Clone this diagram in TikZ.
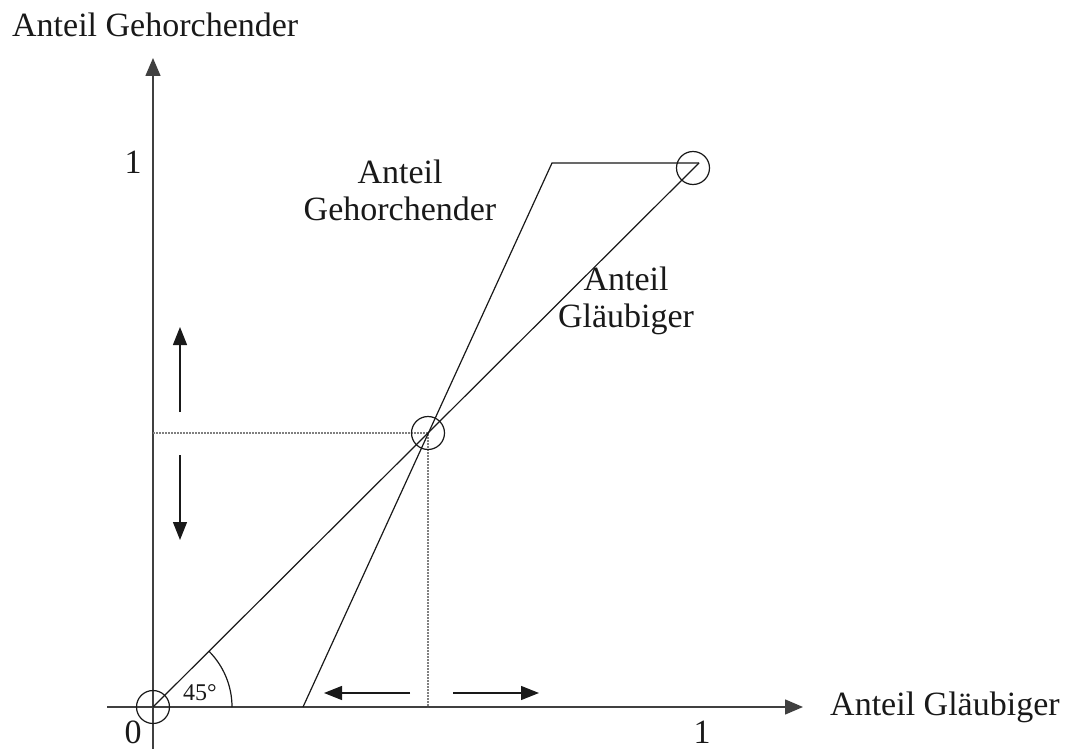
\documentclass[tikz,border=0pt]{standalone}
\usepackage{fontspec}
\setmainfont{Liberation Serif}
\usetikzlibrary{arrows.meta}
\begin{document}
\begin{tikzpicture}[x=1pt,y=-1pt,
  axis/.style={draw=black!75,line width=1.4pt,-{Triangle[length=18pt,width=15pt]}},
  curve/.style={draw=black!90,line width=1.2pt},
  helper/.style={draw=black!50,line width=1.3pt,dash pattern=on 2pt off 1pt},
  move/.style={draw=black!90,line width=1.3pt,-{Triangle[length=18pt,width=14pt]}},
  ring/.style={circle,draw=black!90,line width=1.2pt,minimum size=33pt,inner sep=0pt},
  lab/.style={font=\fontsize{34}{37}\selectfont,inner sep=0pt,text=black!90},
  small/.style={font=\fontsize{24}{26}\selectfont,inner sep=0pt,text=black!90}]
\useasboundingbox (0,0) rectangle (1073,749);
% coordinates
\coordinate (O) at (153,707);
\coordinate (P) at (428,433);
\coordinate (Q) at (699,163);
\coordinate (S) at (303,707);
\coordinate (T) at (552,163);
\coordinate (xs) at (107,707);
\coordinate (xe) at (803,707);
\coordinate (ys) at (153,749);
\coordinate (ye) at (153,58);
\coordinate (yP) at (153,433);
\coordinate (xP) at (428,707);
\coordinate (u1) at (180,412); \coordinate (u2) at (180,327);
\coordinate (d1) at (180,455); \coordinate (d2) at (180,540);
\coordinate (l1) at (410,693); \coordinate (l2) at (324,693);
\coordinate (r1) at (453,693); \coordinate (r2) at (539,693);
% axes
\draw[axis] (xs) -- (xe);
\draw[axis] (ys) -- (ye);
% helper lines
\draw[helper] (yP) -- (P) -- (xP);
% curves
\draw[curve] (O) -- (Q);
\draw[curve] (S) -- (T) -- (Q);
% angle arc
\draw[curve] (232,707) arc[start angle=0,end angle=-45,radius=79];
% circles
\node[ring] (cO) at (O) {};
\node[ring] (cP) at (P) {};
\node[ring] (cQ) at (693,168) {};
% moving arrows
\draw[move] (u1) -- (u2);
\draw[move] (d1) -- (d2);
\draw[move] (l1) -- (l2);
\draw[move] (r1) -- (r2);
% labels
\node[lab,anchor=base west] (ty) at (12,37) {Anteil Gehorchender};
\node[lab,anchor=base west] (tx) at (830,715) {Anteil Gläubiger};
\node[lab,anchor=base] (one1) at (133,173) {1};
\node[lab,anchor=base] (zero) at (133,743) {0};
\node[lab,anchor=base] (one2) at (702,743) {1};
\node[small,anchor=base] (ang) at (200,700) {45°};
\node[lab,align=center,anchor=base] (tg) at (400,220) {Anteil\\Gehorchender};
\node[lab,align=center,anchor=base] (tb) at (626,327) {Anteil\\Gläubiger};
\end{tikzpicture}
\end{document}
